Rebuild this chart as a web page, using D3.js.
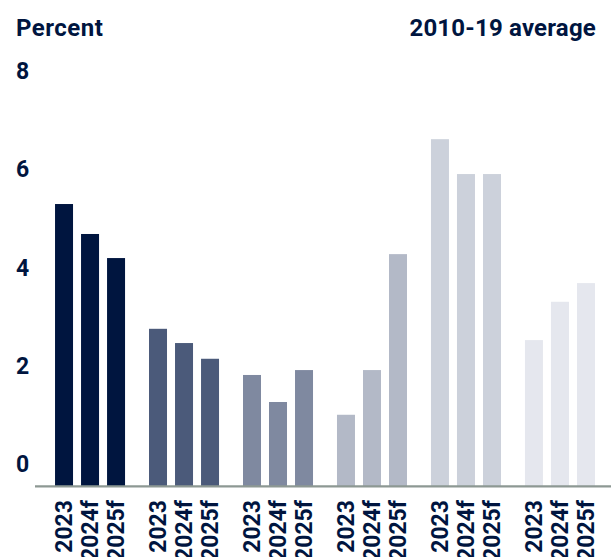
<!DOCTYPE html>
<html>
<head>
<meta charset="utf-8">
<script src="https://cdn.jsdelivr.net/npm/d3@7"></script>
<style>
    html, body { margin: 0; padding: 0; background: #ffffff; }
    #chart { width: 611px; height: 557px; }
    text { font-family: Roboto, "Noto Sans", sans-serif; font-weight: 700; fill: #00153f; }
</style>
</head>
<body>
<div id="chart"></div>
<script>
//Datos
const grupos = ['A', 'B', 'C', 'D', 'E', 'F'];
const years = ['2023', '2024f', '2025f'];
const valores = [
    [5.74, 5.13, 4.64],
    [3.20, 2.91, 2.59],
    [2.26, 1.71, 2.36],
    [1.45, 2.36, 4.72],
    [7.06, 6.35, 6.35],
    [2.97, 3.75, 4.13]
];
const yTicks = [0, 2, 4, 6, 8];
const colores = ['#00153f', '#4b5a7a', '#7f89a0', '#b3b9c7', '#ccd1db', '#e5e7ee'];

//Elementos genéricos
let width = 611, height = 557;

let svg = d3.select('#chart')
    .append('svg')
        .attr('width', width)
        .attr('height', height);

let x = d3.scaleBand()
    .domain(grupos)
    .range([43, 607])
    .paddingInner(0.255)
    .paddingOuter(0.128);

let xSubgroup = d3.scaleBand()
    .domain(years)
    .range([0, x.bandwidth()])
    .paddingInner(0.308)
    .paddingOuter(0);

let y = d3.scaleLinear()
    .domain([0, 8])
    .range([486, 93]);

let color = d3.scaleOrdinal()
    .domain(grupos)
    .range(colores);

//Títulos
svg.append('text')
    .attr('x', 16)
    .attr('y', 36)
    .style('font-size', '24px')
    .style('letter-spacing', '0.5px')
    .text('Percent');

svg.append('text')
    .attr('x', 596)
    .attr('y', 36)
    .attr('text-anchor', 'end')
    .style('font-size', '24px')
    .style('letter-spacing', '0.2px')
    .text('2010-19 average');

//Eje Y (etiquetas por encima de la línea)
svg.append('g')
    .selectAll('text')
    .data(yTicks)
    .enter()
    .append('text')
    .attr('x', 16)
    .attr('y', function(d) { return y(d) - 14; })
    .style('font-size', '23px')
    .text(function(d) { return d; });

//Barras
let rows = grupos.map(function(g, i) {
    return { grupo: g, values: years.map(function(k, j) { return { key: k, value: valores[i][j] }; }) };
});

svg.append('g')
    .selectAll('g')
    .data(rows)
    .enter()
    .append('g')
    .attr('transform', function(d) { return 'translate(' + x(d.grupo) + ',0)'; })
    .each(function(d) {
        let g = d3.select(this);
        g.selectAll('rect')
            .data(d.values)
            .enter()
            .append('rect')
            .attr('x', function(v) { return xSubgroup(v.key); })
            .attr('width', xSubgroup.bandwidth())
            .attr('y', function(v) { return y(v.value); })
            .attr('height', function(v) { return y(0) - y(v.value); })
            .attr('fill', color(d.grupo));

        g.selectAll('text')
            .data(d.values)
            .enter()
            .append('text')
            .attr('transform', function(v) {
                return 'translate(' + (xSubgroup(v.key) + xSubgroup.bandwidth() / 2) + ',500) rotate(-90)';
            })
            .attr('text-anchor', 'end')
            .attr('dy', '0.36em')
            .style('font-size', '23px')
            .text(function(v) { return v.key; });
    });

//Línea base
svg.append('line')
    .attr('x1', 35)
    .attr('x2', 611)
    .attr('y1', y(0) + 0.3)
    .attr('y2', y(0) + 0.3)
    .attr('stroke', '#8d9893')
    .attr('stroke-width', 2.2);
</script>
</body>
</html>
